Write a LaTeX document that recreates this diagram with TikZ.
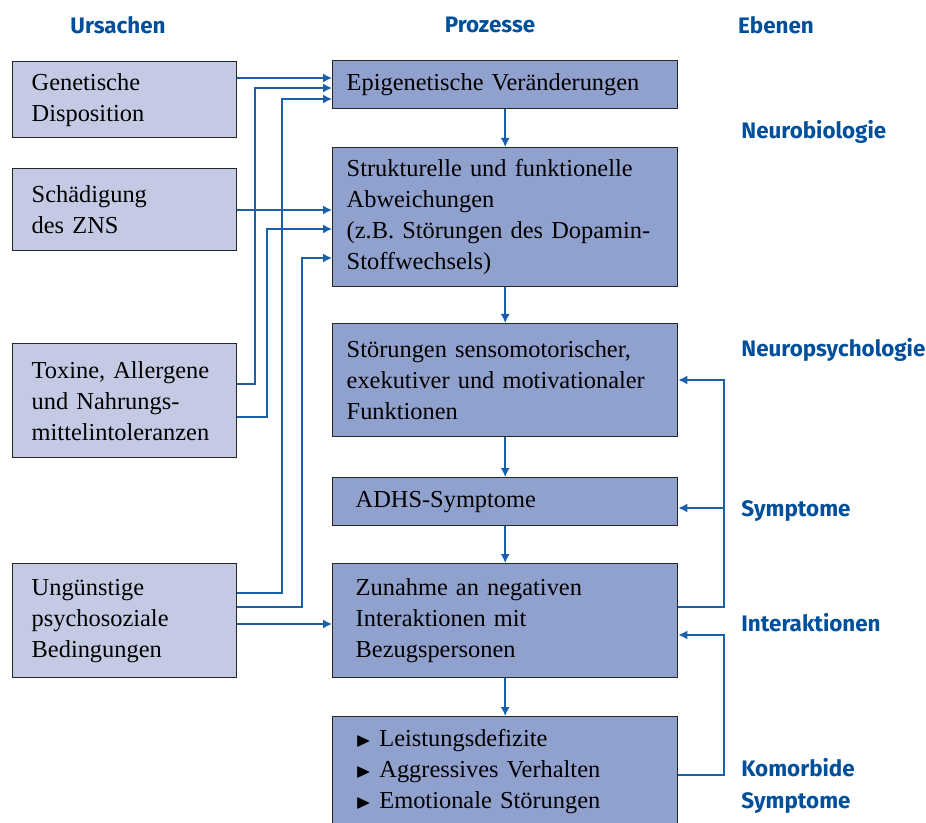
\documentclass[tikz,border=0pt]{standalone}
\usepackage{fontspec}
\usepackage{amssymb}
\setmainfont{Liberation Serif}
\newfontfamily\headfont{Fira Sans}
\usetikzlibrary{arrows.meta}

\definecolor{headblue}{RGB}{0,79,155}
\definecolor{linkblue}{RGB}{26,95,170}
\definecolor{causefill}{RGB}{196,202,228}
\definecolor{procfill}{RGB}{144,161,206}

\newcommand\tribullet{{\normalsize$\blacktriangleright$}\ }

\tikzset{
  cause/.style={draw=black!85, line width=0.7pt, fill=causefill, anchor=north west,
    inner xsep=9.5pt, minimum width=112pt, text width=93pt, align=left,
    font=\fontsize{12.2}{15.5}\selectfont},
  proc/.style={cause, fill=procfill, inner xsep=7pt, minimum width=172.5pt, text width=158.5pt},
  procin/.style={proc, inner xsep=11.5pt, text width=149.5pt},
  level/.style={font=\headfont\bfseries\fontsize{11.2}{16}\selectfont, text=headblue,
    anchor=west, align=left, inner xsep=0pt},
  head/.style={level, anchor=center},
  link/.style={draw=linkblue, line width=0.75pt, -{Latex[length=4.5pt, width=4.5pt]}},
}

\begin{document}
\begin{tikzpicture}[x=0.5pt, y=-0.5pt]
  \clip (0,0) rectangle (926,823);

  % headings
  \node[head] (hcause) at (118,25) {Ursachen};
  \node[head] (hproc) at (490,25) {Prozesse};
  \node[head] (hlevel) at (776,25) {Ebenen};

  % causes
  \node[cause, minimum height=38pt] (gen) at (12,61) {Genetische\\Disposition};
  \node[cause, minimum height=41pt] (zns) at (12,168) {Schädigung\\des ZNS};
  \node[cause, minimum height=57pt] (tox) at (12,343) {Toxine, Allergene\\und Nahrungs-\\mittelintoleranzen};
  \node[cause, minimum height=57pt] (psy) at (12,563) {Ungünstige\\psychosoziale\\Bedingungen};

  % processes
  \node[proc, minimum height=24pt] (epi) at (332,60) {Epigenetische Veränderungen};
  \node[proc, minimum height=69.5pt] (str) at (332,147) {Strukturelle und funktionelle\\Abweichungen\\(z.B. Störungen des Dopamin-\\Stoffwechsels)};
  \node[proc, minimum height=56.5pt] (fun) at (332,323) {Störungen sensomotorischer,\\exekutiver und motivationaler\\Funktionen};
  \node[procin, minimum height=24pt] (adhs) at (332,477) {ADHS-Symptome};
  \node[procin, minimum height=57pt] (inter) at (332,563) {Zunahme an negativen\\Interaktionen mit\\Bezugspersonen};
  \node[procin, minimum height=55pt] (komo) at (332,716) {\tribullet Leistungsdefizite\\\tribullet Aggressives Verhalten\\\tribullet Emotionale Störungen};

  % levels
  \node[level] (lbio) at (741,132) {Neurobiologie};
  \node[level] (lpsy) at (741,350) {Neuropsychologie};
  \node[level] (lsym) at (741,511) {Symptome};
  \node[level] (lint) at (741,623) {Interaktionen};
  \node[level] (lkom) at (741,786) {Komorbide\\Symptome};

  % main chain
  \foreach \a/\b in {epi/str, str/fun, fun/adhs, adhs/inter, inter/komo}
    \draw[link] (\a.south) -- (\b.north);

  % causes to processes
  \draw[link] (gen.east |- 0,78) -- (epi.west |- 0,78);
  \draw[link] (zns.east |- 0,210) -- (str.west |- 0,210);
  \draw[link] (psy.east |- 0,624) -- (inter.west |- 0,624);
  \draw[link] (tox.east |- 0,384) -| (255,88) -- (epi.west |- 0,88);
  \draw[link] (tox.east |- 0,417) -| (267,229) -- (str.west |- 0,229);
  \draw[link] (psy.east |- 0,593) -| (282,99) -- (epi.west |- 0,99);
  \draw[link] (psy.east |- 0,607) -| (302,258) -- (str.west |- 0,258);

  % feedback
  \draw[link] (inter.east |- 0,607) -| (724,380) -- (fun.east |- 0,380);
  \draw[link] (724,508) -- (adhs.east |- 0,508);
  \draw[link] (komo.east |- 0,775) -| (724,635) -- (inter.east |- 0,635);
\end{tikzpicture}
\end{document}
